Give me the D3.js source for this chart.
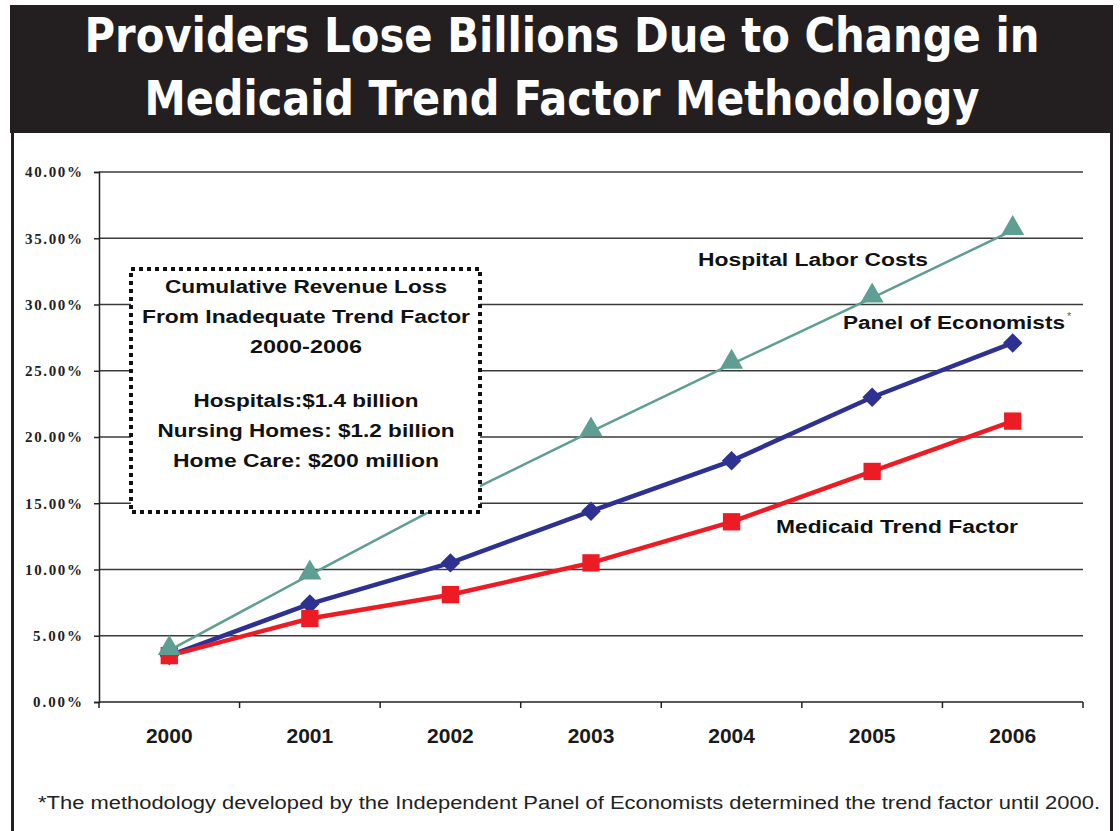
<!DOCTYPE html>
<html>
<head>
<meta charset="utf-8">
<script src="https://cdn.jsdelivr.net/npm/d3@7"></script>
<style>
  html, body { margin: 0; padding: 0; background: #ffffff; }
  svg { display: block; }
</style>
</head>
<body>
<svg id="chart" width="1120" height="831"></svg>
<script>
// ---- data ----
const years = ["2000", "2001", "2002", "2003", "2004", "2005", "2006"];
const hospitalLabor = [3.9, 9.6, 15.2, 20.4, 25.5, 30.5, 35.6];
const panelEconomists = [3.5, 7.4, 10.5, 14.4, 18.2, 23.0, 27.1];
const medicaidTrend = [3.5, 6.3, 8.1, 10.5, 13.6, 17.4, 21.2];
const yTicks = [0, 5, 10, 15, 20, 25, 30, 35, 40];

const titleLines = ["Providers Lose Billions Due to Change in", "Medicaid Trend Factor Methodology"];
const boxLines = [
  "Cumulative Revenue Loss",
  "From Inadequate Trend Factor",
  "2000-2006",
  "",
  "Hospitals:$1.4 billion",
  "Nursing Homes: $1.2 billion",
  "Home Care: $200 million"
];
const footnote = "*The methodology developed by the Independent Panel of Economists determined the trend factor until 2000.";

const svg = d3.select("#chart");

// ---- title banner and frame ----
svg.append("rect").attr("x", 10).attr("y", 5).attr("width", 1103).attr("height", 128).attr("fill", "#231f20");
svg.append("path")
  .attr("d", "M12.5,133 V831 M1111.5,133 V831")
  .attr("stroke", "#231f20").attr("stroke-width", 3).attr("fill", "none");

const titleWidths = [955, 835];
const titleBase = [52, 115];
titleLines.forEach((t, i) => {
  svg.append("text")
    .attr("x", 562).attr("y", titleBase[i])
    .attr("text-anchor", "middle")
    .attr("textLength", titleWidths[i])
    .attr("lengthAdjust", "spacingAndGlyphs")
    .attr("fill", "#ffffff")
    .attr("font-family", "'Liberation Sans Narrow', 'DejaVu Sans Condensed', 'Liberation Sans', sans-serif")
    .attr("font-weight", "bold")
    .attr("font-size", 48)
    .text(t);
});

// ---- scales ----
const x = d3.scaleBand().domain(years).range([99, 1083]);
const y = d3.scaleLinear().domain([0, 40]).range([702, 172]);
const cx = d => x(d) + x.bandwidth() / 2;

// ---- gridlines ----
svg.append("g")
  .selectAll("line")
  .data(yTicks.filter(d => d > 0))
  .join("line")
  .attr("x1", x.range()[0]).attr("x2", x.range()[1])
  .attr("y1", d => y(d)).attr("y2", d => y(d))
  .attr("stroke", "#3a3a3a").attr("stroke-width", 1.5);

// ---- y axis ----
const yAxis = svg.append("g")
  .attr("transform", `translate(${x.range()[0]},0)`)
  .call(d3.axisLeft(y).tickValues(yTicks).tickSize(5).tickPadding(12).tickFormat(d => d.toFixed(2) + "%"));
yAxis.select(".domain").attr("stroke", "#222").attr("stroke-width", 1.5);
yAxis.selectAll(".tick line").attr("stroke", "#222").attr("stroke-width", 1.5);
yAxis.selectAll(".tick text")
  .attr("font-family", "'Liberation Serif', 'DejaVu Serif', serif")
  .attr("font-weight", "bold")
  .attr("font-size", 15)
  .attr("textLength", d => d >= 10 ? 57 : 49)
  .attr("lengthAdjust", "spacing")
  .attr("fill", "#222");

// ---- x axis: baseline with ticks at category boundaries ----
const xg = svg.append("g");
xg.append("line")
  .attr("x1", x.range()[0]).attr("x2", x.range()[1])
  .attr("y1", y(0)).attr("y2", y(0))
  .attr("stroke", "#222").attr("stroke-width", 1.5);
xg.selectAll("line.tk")
  .data(years.map(d => x(d)).concat([x.range()[1]]))
  .join("line").attr("class", "tk")
  .attr("x1", d => d).attr("x2", d => d)
  .attr("y1", y(0)).attr("y2", y(0) + 6)
  .attr("stroke", "#222").attr("stroke-width", 1.5);
xg.selectAll("text")
  .data(years)
  .join("text")
  .attr("x", d => cx(d)).attr("y", 743)
  .attr("text-anchor", "middle")
  .attr("font-family", "'Liberation Sans', Arial, sans-serif")
  .attr("font-weight", "bold")
  .attr("font-size", 21)
  .attr("fill", "#1a1a1a")
  .text(d => d);

// ---- series ----
const series = [
  { name: "hospital", values: hospitalLabor, color: "#5f9e92", width: 2.5, marker: "triangle", size: 230 },
  { name: "panel", values: panelEconomists, color: "#2e3192", width: 4.5, marker: "diamond", size: 190 },
  { name: "medicaid", values: medicaidTrend, color: "#ed1c24", width: 4.5, marker: "square", size: 300 }
];
const symbolType = { triangle: d3.symbolTriangle, diamond: d3.symbolSquare, square: d3.symbolSquare };
const line = d3.line().x(d => cx(d.year)).y(d => y(d.v));

// draw order: panel, medicaid, hospital on top
[series[1], series[2], series[0]].forEach(s => {
  const pts = years.map((yr, i) => ({ year: yr, v: s.values[i] }));
  const g = svg.append("g").attr("class", s.name);
  g.append("path")
    .datum(pts)
    .attr("d", line)
    .attr("fill", "none")
    .attr("stroke", s.color)
    .attr("stroke-width", s.width);
  g.selectAll("path.m")
    .data(pts)
    .join("path").attr("class", "m")
    .attr("transform", d => {
      const dy = s.marker === "triangle" ? -2 : 0;
      const rot = s.marker === "diamond" ? " rotate(45)" : "";
      return `translate(${cx(d.year)},${y(d.v) + dy})${rot}`;
    })
    .attr("d", d3.symbol().type(symbolType[s.marker]).size(s.size))
    .attr("fill", s.color);
});

// ---- series labels ----
const labelFont = "'Liberation Sans', Arial, sans-serif";
function seriesLabel(txt, x0, yb, w) {
  return svg.append("text")
    .attr("x", x0).attr("y", yb)
    .attr("textLength", w).attr("lengthAdjust", "spacingAndGlyphs")
    .attr("font-family", labelFont).attr("font-weight", "bold")
    .attr("font-size", 18).attr("fill", "#111")
    .text(txt);
}
seriesLabel("Hospital Labor Costs", 698, 266, 230);
seriesLabel("Panel of Economists", 843, 329, 222);
svg.append("text").attr("x", 1067).attr("y", 320)
  .attr("font-family", labelFont).attr("font-size", 11).attr("fill", "#666").text("*");
seriesLabel("Medicaid Trend Factor", 776, 533, 242);

// ---- revenue loss box ----
const box = svg.append("g");
box.append("rect")
  .attr("x", 131).attr("y", 269).attr("width", 349).attr("height", 243)
  .attr("fill", "#ffffff")
  .attr("stroke", "#111").attr("stroke-width", 4)
  .attr("stroke-dasharray", "4,4");
const boxBase = [293, 323, 353, 383, 407, 437, 467];
const boxWidths = [282, 328, 112, 0, 225, 297, 266];
boxLines.forEach((t, i) => {
  if (!t) return;
  box.append("text")
    .attr("x", 306).attr("y", boxBase[i])
    .attr("text-anchor", "middle")
    .attr("textLength", boxWidths[i]).attr("lengthAdjust", "spacingAndGlyphs")
    .attr("font-family", labelFont).attr("font-weight", "bold")
    .attr("font-size", 18).attr("fill", "#111")
    .text(t);
});

// ---- footnote ----
svg.append("text")
  .attr("x", 38).attr("y", 809)
  .attr("textLength", 1062).attr("lengthAdjust", "spacingAndGlyphs")
  .attr("font-family", labelFont)
  .attr("font-size", 18).attr("fill", "#222")
  .text(footnote);
</script>
</body>
</html>
